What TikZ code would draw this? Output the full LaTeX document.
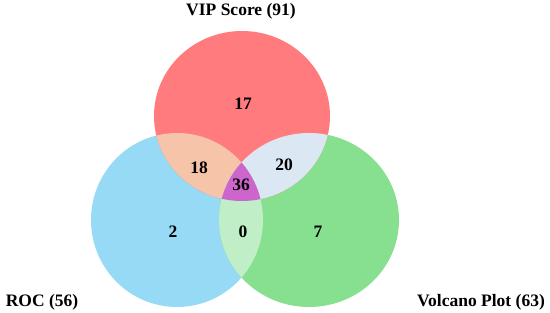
\documentclass[tikz,border=0pt]{standalone}
\usepackage{fontspec}
\setmainfont{Liberation Serif}
\definecolor{cred}{HTML}{FF7B7E}
\definecolor{cblue}{HTML}{96DAF6}
\definecolor{cgreen}{HTML}{86E08F}
\definecolor{crb}{HTML}{F5C4A9}
\definecolor{crg}{HTML}{DCE7F4}
\definecolor{cbg}{HTML}{C0EFC7}
\definecolor{crbg}{HTML}{CC66CC}
\tikzset{
  lbl/.style={anchor=base, inner sep=0pt, font=\fontsize{17.5}{20}\selectfont\bfseries},
}
\begin{document}
\begin{tikzpicture}[x=1pt,y=-1pt]
\useasboundingbox (0,0) rectangle (550,313);
% circles
\def\redc{(242,116) ellipse [x radius=88, y radius=85]}
\def\bluec{(177,220) ellipse [x radius=86, y radius=87]}
\def\greenc{(309,220) ellipse [x radius=90, y radius=87]}
\fill[cblue] \bluec;
\fill[cgreen] \greenc;
\fill[cred] \redc;
\begin{scope}
  \clip \redc; \fill[crb] \bluec;
\end{scope}
\begin{scope}
  \clip \redc; \fill[crg] \greenc;
\end{scope}
\begin{scope}
  \clip \bluec; \fill[cbg] \greenc;
\end{scope}
\begin{scope}
  \clip \redc; \clip \bluec; \fill[crbg] \greenc;
\end{scope}
% labels
\node[lbl] (vip) at (241,16) {VIP Score (91)};
\node[lbl] (roc) at (42,306) {ROC (56)};
\node[lbl] (vol) at (481,306) {Volcano Plot (63)};
\node[lbl] (n17) at (243,110) {17};
\node[lbl] (n18) at (199,174) {18};
\node[lbl] (n20) at (284,171) {20};
\node[lbl] (n36) at (241,191) {36};
\node[lbl] (n2) at (173,237) {2};
\node[lbl] (n0) at (243,237) {0};
\node[lbl] (n7) at (318,237) {7};
\end{tikzpicture}
\end{document}
